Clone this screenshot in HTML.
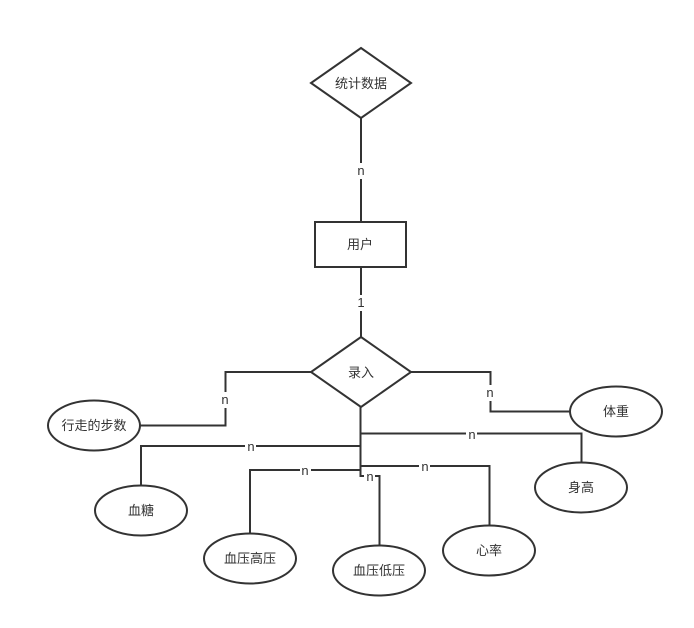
<!DOCTYPE html>
<html>
<head>
<meta charset="utf-8">
<style>
html,body{margin:0;padding:0;background:#fff;width:694px;height:628px;overflow:hidden}
svg{display:block}
text{font-family:"Liberation Sans","WenQuanYi Zen Hei",sans-serif;font-size:13px;fill:#333;text-anchor:middle}
.l{fill:none;stroke:#333;stroke-width:2}
.s{fill:#fff;stroke:#333;stroke-width:2}
.b{fill:#fff;stroke:none}
</style>
</head>
<body>
<svg width="694" height="628" viewBox="0 0 694 628" xmlns="http://www.w3.org/2000/svg">
<rect width="694" height="628" fill="#fff"/>
<path class="l" d="M361 118V222"/>
<path class="l" d="M361 267V337"/>
<path class="l" d="M311 372H225.500V425.500H140"/>
<path class="l" d="M411 372H490.500V411.500H570"/>
<path class="l" d="M360.500 407V446H141V485"/>
<path class="l" d="M360.500 407V470H250V533"/>
<path class="l" d="M360.500 407V476H379.500V545"/>
<path class="l" d="M360.500 407V466H489.500V525"/>
<path class="l" d="M360.500 407V433.500H581.500V462"/>
<polygon class="s" points="361,48 411,83 361,118 311,83"/>
<rect class="s" x="315" y="222" width="91" height="45"/>
<polygon class="s" points="361,337 411,372 361,407 311,372"/>
<ellipse class="s" cx="94" cy="425.500" rx="46" ry="25"/>
<ellipse class="s" cx="141" cy="510.500" rx="46" ry="25"/>
<ellipse class="s" cx="250" cy="558.500" rx="46" ry="25"/>
<ellipse class="s" cx="379" cy="570.500" rx="46" ry="25"/>
<ellipse class="s" cx="489" cy="550.500" rx="46" ry="25"/>
<ellipse class="s" cx="581" cy="487.500" rx="46" ry="25"/>
<ellipse class="s" cx="616" cy="411.500" rx="46" ry="25"/>
<rect class="b" x="355" y="163" width="12" height="16"/>
<rect class="b" x="355" y="295" width="12" height="16"/>
<rect class="b" x="219" y="392" width="12" height="16"/>
<rect class="b" x="484" y="385" width="12" height="16"/>
<rect class="b" x="245" y="440" width="11" height="12"/>
<rect class="b" x="300" y="464" width="11" height="12"/>
<rect class="b" x="364" y="471" width="11" height="12"/>
<rect class="b" x="419" y="460" width="11" height="12"/>
<rect class="b" x="466" y="428" width="11" height="12"/>
<text x="361" y="88">统计数据</text>
<text x="360" y="249">用户</text>
<text x="361" y="377">录入</text>
<text x="94" y="430">行走的步数</text>
<text x="141" y="515">血糖</text>
<text x="250" y="563">血压高压</text>
<text x="379" y="575">血压低压</text>
<text x="489" y="555">心率</text>
<text x="581" y="492">身高</text>
<text x="616" y="416">体重</text>
<text x="361" y="175">n</text>
<text x="361" y="307">1</text>
<text x="225" y="404">n</text>
<text x="490" y="397">n</text>
<text x="251" y="451">n</text>
<text x="305" y="475">n</text>
<text x="370" y="481">n</text>
<text x="425" y="471">n</text>
<text x="472" y="439">n</text>
</svg>
</body>
</html>
